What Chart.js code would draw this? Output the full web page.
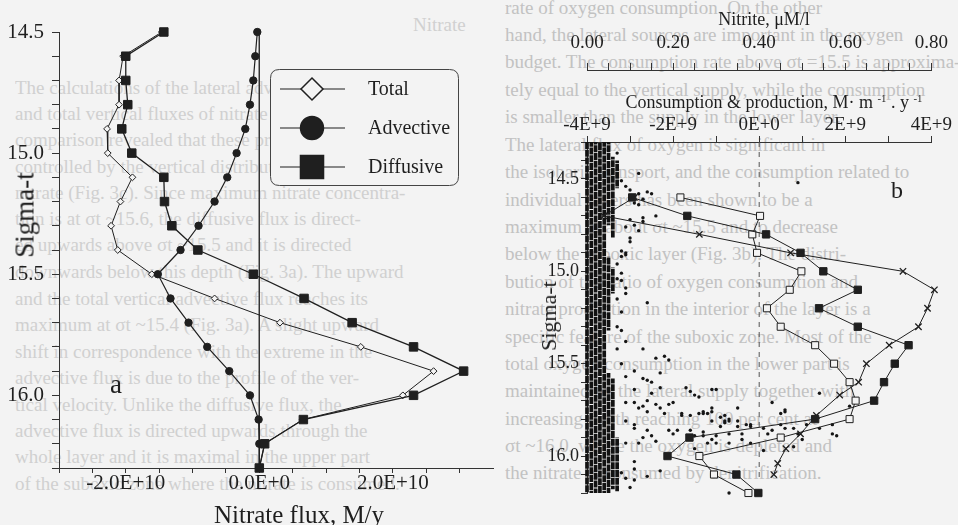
<!DOCTYPE html>
<html><head><meta charset="utf-8">
<script src="https://cdn.jsdelivr.net/npm/chart.js@4.4.1/dist/chart.umd.min.js"></script>
<style>
html,body{margin:0;padding:0;}
body{width:958px;height:525px;position:relative;overflow:hidden;background:#f3f3f3;font-family:"Liberation Serif",serif;color:#1e1e1e;}
.bgl{position:absolute;font-size:19px;line-height:22px;height:22px;color:#d0d0d0;text-align:left;overflow:hidden;white-space:nowrap;}
.bgr{color:#c2c2c2;}
canvas{position:absolute;top:0;}
#ca{left:0;}
#cb{left:500px;}
.lbl{position:absolute;white-space:nowrap;transform:translate(-50%,-50%);line-height:1;}
.rot{transform:translate(-50%,-50%) rotate(-90deg);}
sup{font-size:60%;vertical-align:6px;}
</style></head>
<body>
<div id="bg"></div>
<canvas id="ca" width="500" height="525"></canvas>
<canvas id="cb" width="458" height="525"></canvas>
<div class="lbl rot" style="left:25px;top:215px;font-size:27px;">Sigma-t</div>
<div class="lbl" style="left:299px;top:514px;font-size:25px;">Nitrate flux, M/y</div>
<div class="lbl" style="left:116px;top:384px;font-size:27px;">a</div>
<div class="lbl" style="left:897px;top:190px;font-size:24px;">b</div>
<div class="lbl" style="left:764px;top:19px;font-size:18px;">Nitrite, &mu;M/l</div>
<div class="lbl" style="left:774px;top:102px;font-size:18px;">Consumption &amp; production, M&middot; m <sup>-1</sup> . y <sup>-1</sup></div>
<div class="lbl rot" style="left:549px;top:316px;font-size:22px;">Sigma-t</div>
<script>
// ---------- Panel a : nitrate fluxes (units: 1E+10 M/y) ----------
const sigmaA        = [14.5,14.6,14.7,14.8,14.9,15.0,15.1,15.2,15.3,15.4,15.5,15.6,15.7,15.8,15.9,16.0,16.1,16.2,16.3];
const totalFlux     = [-1.46,-2.04,-2.10,-2.10,-2.28,-2.27,-1.90,-2.08,-2.22,-2.12,-1.61,-0.67,0.31,1.52,2.61,2.15,0.65,0.08,0.00];
const advectiveFlux = [-0.03,-0.06,-0.09,-0.14,-0.21,-0.34,-0.48,-0.67,-0.91,-1.18,-1.52,-1.33,-1.06,-0.78,-0.45,-0.14,-0.01,0.00,0.00];
const diffusiveFlux = [-1.43,-2.00,-2.00,-1.97,-2.06,-1.91,-1.43,-1.42,-1.31,-0.92,-0.09,0.67,1.39,2.31,3.06,2.31,0.66,0.08,0.00];
const fluxUnit = 1e10;
const fluxMajorTicks = [-2e10, 0, 2e10];
const fluxTickLabels = ['-2.0E+10','0.0E+0','2.0E+10'];
const sigmaMajorTicks = [14.5, 15.0, 15.5, 16.0];
const sigmaTickLabels = ['14.5','15.0','15.5','16.0'];
const zeroLineSigmaA = [14.5, 16.3];

// ---------- Panel b : consumption & production (units: 1E+9 M m-1 y-1) ----------
const sigmaB     = [14.6,14.7,14.8,14.9,15.0,15.1,15.2,15.3,15.4,15.5,15.6,15.7,15.8,15.9,16.0,16.1,16.2];
const openSquare = [-1.83,0.02,-0.16,-0.05,0.98,0.71,0.18,0.50,1.30,1.74,2.10,2.24,2.10,0.50,-1.39,-1.05,-0.25];
const filledSquare = [-2.95,-1.67,0.16,0.96,1.49,2.29,1.39,2.29,3.47,3.15,2.90,2.67,1.30,-1.62,-2.13,-0.53,-0.02];
const crossSigma = [14.6,14.7,14.8,14.9,15.0,15.1,15.2,15.3,15.4,15.5,15.6,15.67,15.78,15.88,15.96,16.04,16.10];
const crossVals  = [-2.90,-3.61,-1.39,0.73,3.34,4.07,3.91,3.70,3.02,2.49,2.31,1.87,1.33,0.96,0.62,0.43,0.34];
const consUnit = 1e9;
const consMajorTicks = [-4e9,-2e9,0,2e9,4e9];
const consTickLabels = ['-4E+9','-2E+9','0E+0','2E+9','4E+9'];
const nitriteMajorTicks = [0,0.2,0.4,0.6,0.8];
const nitriteTickLabels = ['0.00','0.20','0.40','0.60','0.80'];
const consZeroSigma = [14.3, 16.13];

// nitrite observations: dense columns (nitrite value, sigma-t top, sigma-t bottom)
const denseColX      = [0.00, 0.01, 0.02, 0.03, 0.04, 0.05, 0.05, 0.05, 0.06, 0.06, 0.06, 0.07, 0.07];
const denseColTop    = [14.30,14.30,14.30,14.30,14.30,14.30,14.92,15.55,14.38,14.98,15.58,14.40,15.90];
const denseColBottom = [16.20,16.20,16.20,16.20,16.20,14.75,15.32,16.20,14.82,15.12,16.18,14.55,16.19];
// nitrite observations: scattered points [nitrite, sigma-t]
const nitritePoints = [
[0.07,14.36],[0.12,14.47],[0.08,14.51],[0.09,14.54],[0.10,14.56],[0.12,14.58],[0.14,14.57],[0.15,14.58],[0.13,14.61],[0.11,14.63],
[0.16,14.70],[0.13,14.71],[0.13,14.73],[0.10,14.72],[0.11,14.75],[0.12,14.78],[0.09,14.76],[0.10,14.82],[0.10,14.84],[0.09,14.90],
[0.08,14.92],[0.08,15.01],[0.09,15.09],[0.14,15.17],[0.09,15.12],[0.08,15.22],[0.12,14.64],[0.08,14.89],[0.09,14.91],[0.49,14.52],
[0.07,14.96],[0.07,15.04],[0.08,15.05],[0.07,15.15],[0.07,15.30],[0.07,15.42],[0.08,15.50],[0.08,15.32],[0.09,15.38],
[0.13,15.42],[0.16,15.47],[0.18,15.46],[0.19,15.48],[0.17,15.55],[0.11,15.54],[0.09,15.57],[0.13,15.58],[0.14,15.59],[0.15,15.60],
[0.11,15.64],[0.17,15.63],[0.20,15.71],[0.23,15.63],[0.24,15.65],[0.26,15.68],[0.29,15.64],[0.15,15.66],[0.14,15.70],[0.16,15.72],
[0.09,15.71],[0.11,15.71],[0.13,15.73],[0.12,15.74],[0.14,15.76],[0.17,15.74],[0.18,15.77],[0.19,15.72],[0.22,15.77],[0.22,15.78],
[0.24,15.78],[0.26,15.77],[0.27,15.76],[0.29,15.74],[0.28,15.77],[0.29,15.81],[0.31,15.79],[0.32,15.81],[0.33,15.81],[0.35,15.81],
[0.09,15.81],[0.11,15.83],[0.11,15.85],[0.14,15.86],[0.15,15.89],[0.16,15.92],[0.13,15.90],[0.12,15.93],[0.09,15.93],[0.19,15.86],
[0.20,15.88],[0.21,15.86],[0.24,15.86],[0.25,15.89],[0.27,15.87],[0.29,15.91],[0.30,15.89],[0.33,15.88],[0.36,15.88],[0.11,16.03],
[0.11,16.07],[0.11,16.13],[0.10,16.17],[0.14,16.11],[0.17,16.08],[0.33,16.20],[0.09,16.12],[0.08,16.09],
[0.30,15.64],[0.25,15.67],[0.35,15.74],[0.29,15.76],[0.32,15.78],[0.27,15.77],[0.33,15.80],[0.32,15.82],[0.31,15.84],[0.35,15.84],
[0.37,15.83],[0.38,15.83],[0.38,15.84],[0.41,15.85],[0.43,15.71],[0.45,15.77],[0.46,15.76],[0.46,15.75],[0.45,15.83],[0.43,15.86],
[0.42,15.88],[0.46,15.85],[0.48,15.85],[0.49,15.88],[0.50,15.91],[0.48,15.95],[0.41,15.97],[0.38,15.93],[0.36,15.91],[0.33,15.93],
[0.28,15.93],[0.25,15.96],[0.30,15.93],[0.27,15.89],[0.24,15.90],[0.51,15.83],[0.54,15.85],[0.57,15.83],[0.57,15.88],[0.58,15.89],
[0.54,15.66],[0.61,15.73]
];

// ---------- background page text (scanned page behind the figure) ----------
const bgLeft = [
 [88,"The calculations of the lateral advective and diffusive"],
 [114,"and total vertical fluxes of nitrate (Fig. 3a) and their"],
 [140,"comparison revealed that these processes were mainly"],
 [167,"controlled by the vertical distribution of dissolved"],
 [193,"nitrate (Fig. 3c). Since maximum nitrate concentra-"],
 [219,"tion is at σt ~15.6, the diffusive flux is direct-"],
 [245,"ed upwards above σt ~15.5 and it is directed"],
 [272,"downwards below this depth (Fig. 3a). The upward"],
 [299,"and the total vertical advective flux reaches its"],
 [325,"maximum at σt ~15.4 (Fig. 3a). A slight upward"],
 [352,"shift in correspondence with the extreme in the"],
 [378,"advective flux is due to the profile of the ver-"],
 [405,"tical velocity. Unlike the diffusive flux, the"],
 [431,"advective flux is directed upwards through the"],
 [457,"whole layer and it is maximal in the upper part"],
 [484,"of the suboxic zone where the nitrate is consumed."]
];
const bgRight = [
 [8,"rate of oxygen consumption. On the other"],
 [35,"hand, the lateral sources are important in the oxygen"],
 [62,"budget. The consumption rate above σt =15.5 is approxima-"],
 [90,"tely equal to the vertical supply, while the consumption"],
 [117,"is smaller than the supply in the lower layer."],
 [145,"The lateral flux of oxygen is significant in"],
 [172,"the isobaric transport, and the consumption related to"],
 [200,"individual layers has been shown to be a"],
 [227,"maximum at about σt ~15.5 and to decrease"],
 [254,"below the suboxic layer (Fig. 3b). The distri-"],
 [282,"bution of the ratio of oxygen consumption and"],
 [309,"nitrate production in the interior of the layer is a"],
 [337,"specific feature of the suboxic zone. Most of the"],
 [364,"total oxygen consumption in the lower part is"],
 [391,"maintained by the lateral supply together with"],
 [419,"increasing depth reaching 100 per cent at"],
 [446,"σt ~16.0, where the oxygen is depleted and"],
 [473,"the nitrate is consumed by denitrification."]
];
(function(){
  const bg = document.getElementById('bg');
  const add = (x,w,y,t,cls)=>{const d=document.createElement('div');d.className='bgl '+(cls||'');d.style.left=x+'px';d.style.width=w+'px';d.style.top=(y-11)+'px';d.textContent=t;bg.appendChild(d);};
  add(413,90,25,'Nitrate');
  bgLeft.forEach(l=>add(15,475,l[0],l[1]));
  bgRight.forEach(l=>add(505,453,l[0],l[1],'bgr'));
})();

// ---------- helpers ----------
const INK = '#1f1f1f';
const BG = '#f3f3f3';
Chart.defaults.font.family = "'Liberation Serif', serif";
Chart.defaults.color = INK;
function majorLabel(majors, labels, tol){
  return function(v){
    for (let i=0;i<majors.length;i++){ if (Math.abs(v-majors[i])<tol) return labels[i]; }
    return '';
  };
}
const pts = (ys, xs, unit) => ys.map((y,i)=>({x:xs[i]*unit, y:y}));

// ---------- legend plugin for panel a ----------
const legendBoxPlugin = {
  id:'legendBox',
  afterDraw(chart){
    const ctx = chart.ctx;
    const bx=270.5, by=69.5, bw=188, bh=116, r=9;
    ctx.save();
    ctx.beginPath();
    ctx.moveTo(bx+r,by); ctx.lineTo(bx+bw-r,by); ctx.quadraticCurveTo(bx+bw,by,bx+bw,by+r);
    ctx.lineTo(bx+bw,by+bh-r); ctx.quadraticCurveTo(bx+bw,by+bh,bx+bw-r,by+bh);
    ctx.lineTo(bx+r,by+bh); ctx.quadraticCurveTo(bx,by+bh,bx,by+bh-r);
    ctx.lineTo(bx,by+r); ctx.quadraticCurveTo(bx,by,bx+r,by); ctx.closePath();
    ctx.fillStyle = BG; ctx.fill();
    ctx.lineWidth = 1; ctx.strokeStyle = '#444'; ctx.stroke();
    const entries = [
      {label:'Total', style:'rectRot', radius:11, fill:BG},
      {label:'Advective', style:'circle', radius:11.5, fill:INK},
      {label:'Diffusive', style:'rect', radius:16.3, fill:INK}
    ];
    entries.forEach((e,i)=>{
      const y = 89 + i*39;
      ctx.beginPath(); ctx.moveTo(280,y); ctx.lineTo(345,y); ctx.lineWidth=1.2; ctx.strokeStyle=INK; ctx.stroke();
      ctx.fillStyle = e.fill; ctx.strokeStyle = INK; ctx.lineWidth = 1.5;
      Chart.helpers.drawPoint(ctx, {pointStyle:e.style, radius:e.radius, borderWidth:1.5, rotation:0}, 312, y);
      ctx.fillStyle = INK; ctx.font = "20px 'Liberation Serif', serif"; ctx.textBaseline='middle'; ctx.textAlign='left';
      ctx.fillText(e.label, 368, y+1);
    });
    ctx.restore();
  }
};

// ---------- Panel a chart ----------
new Chart(document.getElementById('ca'), {
  type:'scatter',
  data:{datasets:[
    {label:'Diffusive', data:pts(sigmaA, diffusiveFlux, fluxUnit), showLine:true, borderColor:INK, borderWidth:1.3,
     pointStyle:'rect', pointRadius:6, pointBackgroundColor:INK, pointBorderColor:INK, pointBorderWidth:1, clip:false},
    {label:'Advective', data:pts(sigmaA, advectiveFlux, fluxUnit), showLine:true, borderColor:INK, borderWidth:1.2,
     pointStyle:'circle', pointRadius:3.7, pointBackgroundColor:INK, pointBorderColor:INK, pointBorderWidth:1, clip:false},
    {label:'Total', data:pts(sigmaA, totalFlux, fluxUnit), showLine:true, borderColor:INK, borderWidth:1,
     pointStyle:'rectRot', pointRadius:3.4, pointBackgroundColor:BG, pointBorderColor:INK, pointBorderWidth:1, clip:false},
    {label:'zero', data:zeroLineSigmaA.map(s=>({x:0,y:s})), showLine:true, borderColor:'#333', borderWidth:1, pointRadius:0, clip:false}
  ]},
  options:{
    responsive:false, animation:false, devicePixelRatio:1, events:[],
    layout:{padding:{top:32,right:6,left:0,bottom:0}},
    plugins:{legend:{display:false}, tooltip:{enabled:false}},
    scales:{
      x:{type:'linear', min:-3e10, max:3.5e10,
         afterFit:s=>{s.height=57;},
         ticks:{stepSize:0.5e10, autoSkip:false, maxRotation:0, padding:0,
                font:{size:21, lineHeight:1}, color:INK,
                callback:function(v){ if (v>3.2e10) return null; return majorLabel(fluxMajorTicks, fluxTickLabels, 1e6)(v);} },
         grid:{drawOnChartArea:false, drawTicks:true, tickLength:5, color:'#333', lineWidth:1},
         border:{display:true, color:'#333', width:1}},
      y:{type:'linear', reverse:true, min:14.5, max:16.3,
         afterFit:s=>{s.width=59;},
         ticks:{stepSize:0.1, autoSkip:false, padding:8, font:{size:21, lineHeight:1}, color:INK,
                callback:majorLabel(sigmaMajorTicks, sigmaTickLabels, 1e-4)},
         grid:{drawOnChartArea:false, drawTicks:true, tickLength:7, color:'#333', lineWidth:1},
         border:{display:true, color:'#333', width:1}}
    }
  },
  plugins:[legendBoxPlugin]
});

// ---------- Panel b chart ----------
const denseDatasets = denseColX.map((x,i)=>({
  data:[{x:x, y:denseColTop[i]},{x:x, y:denseColBottom[i]}], xAxisID:'xN', showLine:true,
  borderColor:'#121212', borderWidth:3.7, borderDash:[7,0.8], borderDashOffset:(i*2.3)%7, pointRadius:0, clip:false
}));
new Chart(document.getElementById('cb'), {
  type:'scatter',
  data:{datasets:[
    {label:'filled', data:pts(sigmaB, filledSquare, consUnit), xAxisID:'xC', showLine:true, borderColor:INK, borderWidth:1,
     pointStyle:'rect', pointRadius:5.2, pointBackgroundColor:INK, pointBorderColor:INK, pointBorderWidth:1, clip:false},
    {label:'open', data:pts(sigmaB, openSquare, consUnit), xAxisID:'xC', showLine:true, borderColor:INK, borderWidth:1,
     pointStyle:'rect', pointRadius:5, pointBackgroundColor:BG, pointBorderColor:INK, pointBorderWidth:1, clip:false},
    {label:'cross', data:pts(crossSigma, crossVals, consUnit), xAxisID:'xC', showLine:true, borderColor:INK, borderWidth:1,
     pointStyle:'crossRot', pointRadius:4.5, pointBorderColor:INK, pointBorderWidth:1.3, clip:false},
    {label:'nitrite', data:nitritePoints.map(p=>({x:p[0], y:p[1]})), xAxisID:'xN', showLine:false,
     pointStyle:'circle', pointRadius:1.7, pointBackgroundColor:'#151515', pointBorderWidth:0, clip:false},
    ...denseDatasets,
    {label:'zero', data:consZeroSigma.map(s=>({x:0,y:s})), xAxisID:'xC', showLine:true, borderColor:'#555', borderWidth:1,
     borderDash:[5,5], pointRadius:0, clip:false}
  ]},
  options:{
    responsive:false, animation:false, devicePixelRatio:1, events:[],
    layout:{padding:{top:0,right:21,left:0,bottom:32}},
    plugins:{legend:{display:false}, tooltip:{enabled:false}},
    scales:{
      xC:{type:'linear', position:'top', weight:0, min:-4e9, max:4e9,
          afterFit:s=>{s.height=72;},
          ticks:{stepSize:1e9, autoSkip:false, maxRotation:0, padding:1, font:{size:19, lineHeight:1}, color:INK,
                 callback:majorLabel(consMajorTicks, consTickLabels, 1e5)},
          grid:{drawOnChartArea:false, drawTicks:true, tickLength:6, color:'#333', lineWidth:1},
          border:{display:true, color:'#333', width:1}},
      xN:{type:'linear', position:'top', weight:1, min:0, max:0.8,
          afterFit:s=>{s.height=70;},
          ticks:{stepSize:0.05, autoSkip:false, maxRotation:0, padding:10, font:{size:19, lineHeight:1}, color:INK,
                 callback:majorLabel(nitriteMajorTicks, nitriteTickLabels, 1e-4)},
          grid:{drawOnChartArea:false, drawTicks:true, tickLength:7, color:'#333', lineWidth:1},
          border:{display:true, color:'#333', width:1}},
      y:{type:'linear', reverse:true, min:14.3, max:16.2,
         afterFit:s=>{s.width=87;},
         ticks:{stepSize:0.1, autoSkip:false, padding:2, font:{size:18, lineHeight:1}, color:INK,
                callback:majorLabel(sigmaMajorTicks, sigmaTickLabels, 1e-4)},
         grid:{drawOnChartArea:false, drawTicks:true, tickLength:6, color:'#333', lineWidth:1},
         border:{display:true, color:'#333', width:1}}
    }
  }
});
</script>
</body></html>
